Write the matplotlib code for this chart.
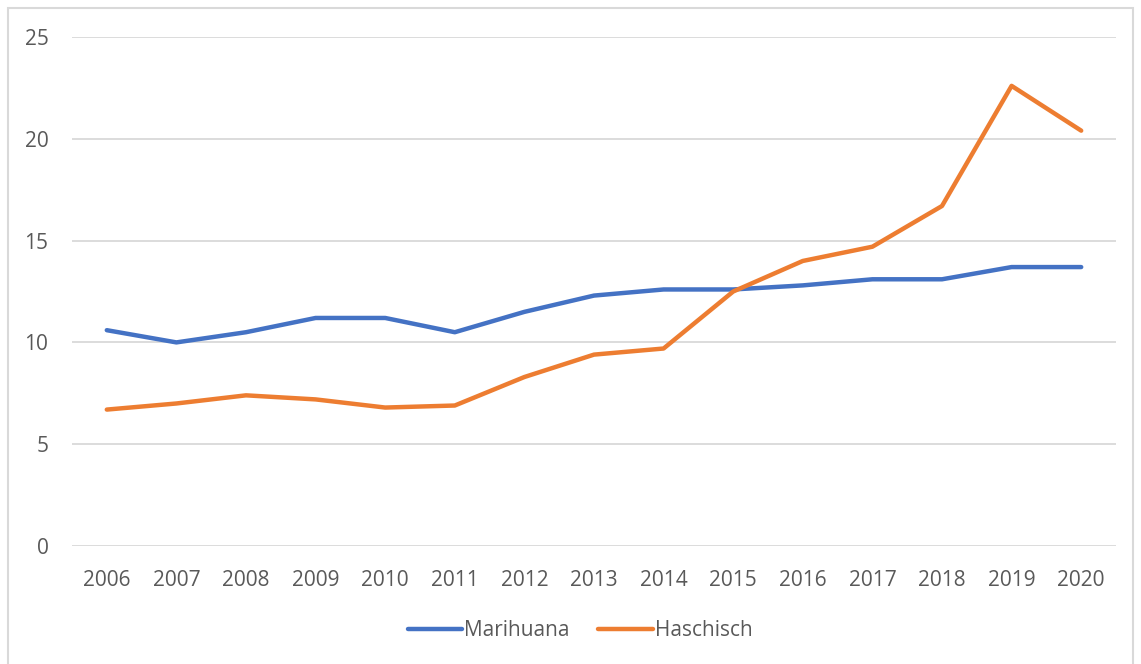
import matplotlib.pyplot as plt
from matplotlib.patches import Rectangle

years = ['2006', '2007', '2008', '2009', '2010', '2011', '2012', '2013',
         '2014', '2015', '2016', '2017', '2018', '2019', '2020']
marihuana = [10.6, 10.0, 10.5, 11.2, 11.2, 10.5, 11.5, 12.3, 12.6, 12.6, 12.8, 13.1, 13.1, 13.7, 13.7]
haschisch = [6.7, 7.0, 7.4, 7.2, 6.8, 6.9, 8.3, 9.4, 9.7, 12.5, 14.0, 14.7, 16.7, 22.6, 20.4]
y_ticks = [0, 5, 10, 15, 20, 25]

plt.rcParams['font.family'] = ['Open Sans', 'DejaVu Sans']
text_color = '#595959'

W, H = 1141, 664
fig = plt.figure(figsize=(W / 100, H / 100), dpi=100)
ax = fig.add_axes([72 / W, 1 - 546 / H, (1116 - 72) / W, (546 - 37) / H])

# outer chart border
fig.patches.append(Rectangle((8 / W, -0.01), (1133 - 8) / W, (H - 8) / H + 0.01,
                             transform=fig.transFigure, fill=False,
                             edgecolor='#D9D9D9', linewidth=1.5))

x = range(len(years))
ax.plot(x, marihuana, color='#4472C4', linewidth=3.2, label='Marihuana',
        solid_capstyle='round', solid_joinstyle='round')
ax.plot(x, haschisch, color='#ED7D31', linewidth=3.2, label='Haschisch',
        solid_capstyle='round', solid_joinstyle='round')

ax.set_xlim(-0.5, len(years) - 0.5)
ax.set_ylim(0, 25)
ax.set_yticks(y_ticks)
ax.set_xticks(list(x))
ax.set_xticklabels(years)
ax.grid(axis='y', color='#D9D9D9', linewidth=1.3)
ax.set_axisbelow(True)
for s in ax.spines.values():
    s.set_visible(False)
ax.tick_params(length=0, labelsize=15, labelcolor=text_color)
ax.tick_params(axis='y', pad=17)
ax.tick_params(axis='x', pad=17)

ax.legend(loc='center', bbox_to_anchor=(0.4866, (546 - 631) / (546 - 37)),
          ncol=2, frameon=False, fontsize=15, labelcolor=text_color,
          handlelength=2.6, handletextpad=0.1, columnspacing=1.4)

fig.savefig('out.png', dpi=100)
